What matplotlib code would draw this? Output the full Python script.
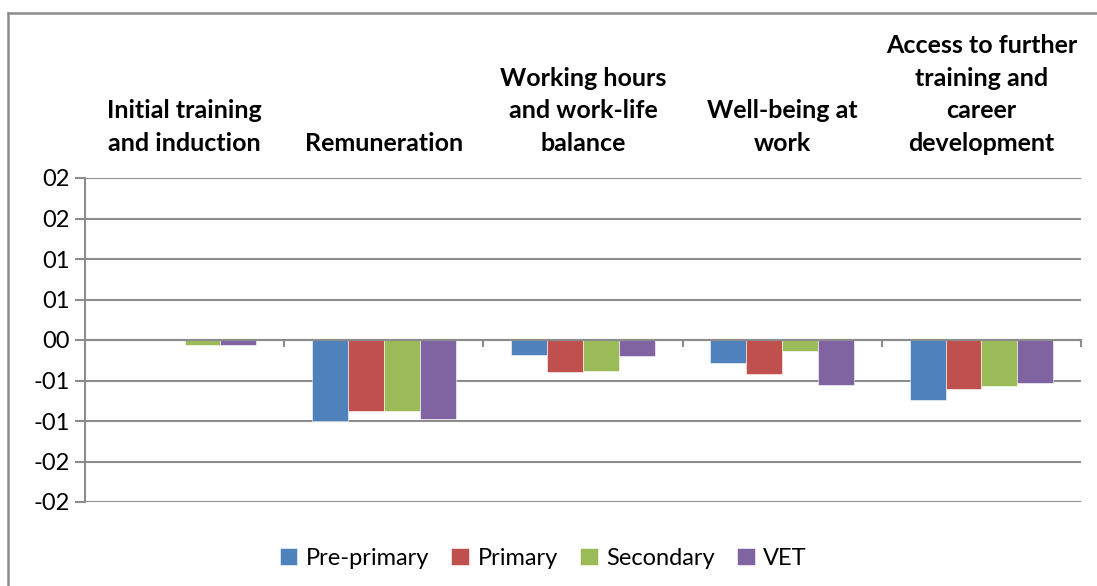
import matplotlib.pyplot as plt
from matplotlib.lines import Line2D
from matplotlib.ticker import FuncFormatter

# chart data
categories = ['Initial training\nand induction', 'Remuneration',
              'Working hours\nand work-life\nbalance', 'Well-being at\nwork',
              'Access to further\ntraining and\ncareer\ndevelopment']
series = ['Pre-primary', 'Primary', 'Secondary', 'VET']
pre_primary = [0.0, -0.0100, -0.0019, -0.0029, -0.0074]
primary = [0.0, -0.0088, -0.0039, -0.0042, -0.0061]
secondary = [-0.00058, -0.0088, -0.0038, -0.0014, -0.0057]
vet = [-0.00066, -0.0098, -0.0020, -0.0055, -0.0053]
colors = ['#4F81BD', '#C0504D', '#9BBB59', '#8064A2']

plt.rcParams['font.family'] = ['Lato', 'DejaVu Sans']
fig = plt.figure(figsize=(10.97, 5.86), dpi=100)
ax = fig.add_axes([85 / 1097, 1 - 502 / 586, (1081 - 85) / 1097, 324 / 586])

grid_col = '#8c8c8c'
width = 0.18
x = list(range(len(categories)))
for k, (vals, name) in enumerate(zip([pre_primary, primary, secondary, vet], series)):
    pos = [i + (k - 1.5) * width for i in x]
    ax.bar(pos, vals, width, color=colors[k], label=name, zorder=3,
           edgecolor='white', linewidth=0.4)

ax.set_xlim(-0.5, len(categories) - 0.5)
ax.set_ylim(-0.02, 0.02)
ax.set_yticks([-0.02, -0.015, -0.01, -0.005, 0, 0.005, 0.01, 0.015, 0.02])


def fmt(v, pos):
    n = int(abs(v) * 100 + 0.5)
    return ('-' if v < -1e-12 else '') + '%02d' % n


ax.yaxis.set_major_formatter(FuncFormatter(fmt))
ax.grid(axis='y', color=grid_col, linewidth=1.5, zorder=0)
ax.set_axisbelow(True)

for s in ['top', 'right']:
    ax.spines[s].set_visible(False)
ax.spines['bottom'].set_position(('data', 0))
ax.spines['bottom'].set_color(grid_col)
ax.spines['bottom'].set_linewidth(1.5)
ax.spines['bottom'].set_zorder(4)
ax.spines['left'].set_color(grid_col)
ax.spines['left'].set_linewidth(1.5)

ax.set_xticks([i - 0.5 for i in range(len(categories) + 1)])
ax.set_xticklabels([])
ax.tick_params(axis='x', direction='out', length=5, width=1.5, color=grid_col)
ax.tick_params(axis='y', direction='out', length=7, width=1.5, color=grid_col,
               labelsize=17, pad=4)

for i, cat in enumerate(categories):
    ax.text(i, 1.072, cat, transform=ax.get_xaxis_transform(), ha='center',
            va='bottom', fontsize=18, fontweight='bold', linespacing=1.5)

ax.legend(loc='upper center', bbox_to_anchor=(0.46, -0.075), ncol=4,
          frameon=False, fontsize=17, handlelength=0.75, handleheight=0.75,
          handletextpad=0.35, columnspacing=0.95)

# outer chart border
fig.add_artist(Line2D([8 / 1097, 8 / 1097], [0, 1 - 13 / 586], color='#8c8c8c', lw=1.8))
fig.add_artist(Line2D([8 / 1097, 1], [1 - 13 / 586, 1 - 13 / 586], color='#8c8c8c', lw=1.8))

fig.savefig('out.png', dpi=100)
